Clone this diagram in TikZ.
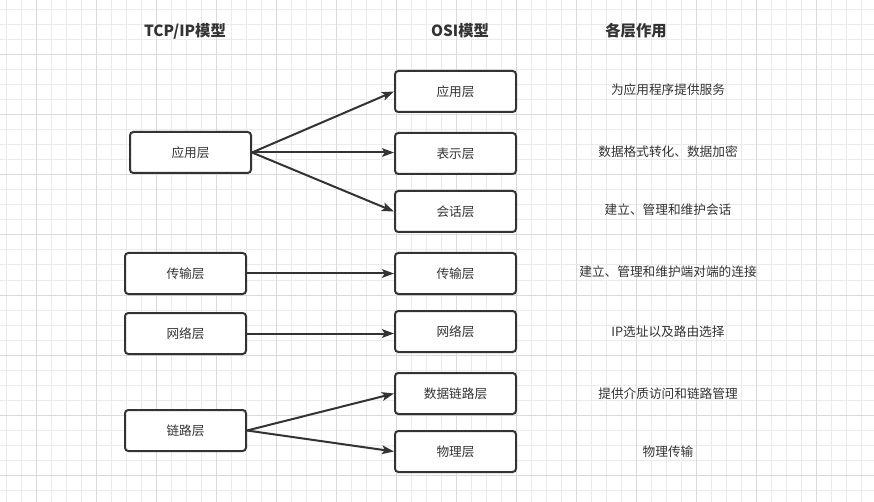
\documentclass[tikz,border=0pt]{standalone}
\usepackage{fontspec}
\setmainfont{Noto Sans CJK SC}
\usetikzlibrary{arrows.meta,positioning}
\definecolor{inkgray}{HTML}{333333}
\definecolor{gridminor}{HTML}{EBEBEB}
\definecolor{gridmajor}{HTML}{DADADA}
\tikzset{
  layerbox/.style={draw=inkgray,line width=1.5pt,rounded corners=2.5pt,fill=white,
    minimum width=90.75pt,minimum height=30.75pt,inner sep=0pt,text=inkgray,
    font=\fontsize{9.5}{11}\selectfont},
  headtext/.style={text=inkgray,font=\fontsize{11.5}{13}\selectfont\bfseries},
  desctext/.style={text=inkgray,font=\fontsize{9.5}{11}\selectfont},
  conn/.style={draw=inkgray,line width=1.5pt,-{Stealth[length=9pt,width=6.5pt,inset=2pt]}}
}

\begin{document}
\begin{tikzpicture}[x=0.75pt,y=-0.75pt]
  \useasboundingbox (0,0) rectangle (874,502);
  \fill[white] (0,0) rectangle (874,502);
  % grid background
  \foreach \x in {6.5,21.5,...,874}
    \draw[gridminor,line width=0.75pt] (\x,0) -- (\x,502);
  \foreach \y in {10,25,...,502}
    \draw[gridminor,line width=0.75pt] (0,\y) -- (874,\y);
  \foreach \x in {36.5,96.5,...,874}
    \draw[gridmajor,line width=0.75pt] (\x,0) -- (\x,502);
  \foreach \y in {55,115,...,502}
    \draw[gridmajor,line width=0.75pt] (0,\y) -- (874,\y);

  % column titles
  \node[headtext] (hdTcp) at (185,31) {TCP/IP模型};
  \node[headtext] (hdOsi) at (460,31) {OSI模型};
  \node[headtext] (hdRole) at (636,31) {各层作用};

  % TCP/IP layers
  \node[layerbox] (tcpApp) at (190.5,152.5) {应用层};
  \node[layerbox] (tcpTrans) at (185.5,273.5) {传输层};
  \node[layerbox] (tcpNet) at (185.5,333.5) {网络层};
  \node[layerbox] (tcpLink) at (185.5,430.5) {链路层};

  % OSI layers and their roles
  \foreach \nm/\yy/\dy/\lab/\desc in {osiApp/91.5/90/应用层/为应用程序提供服务,
      osiPres/153.5/152/表示层/数据格式转化、数据加密,
      osiSess/211.5/210/会话层/建立、管理和维护会话,
      osiTrans/273.5/272/传输层/建立、管理和维护端对端的连接,
      osiNet/331.5/332/网络层/IP选址以及路由选择,
      osiLink/393.5/394/数据链路层/提供介质访问和链路管理,
      osiPhy/451.5/452/物理层/物理传输}{
    \node[layerbox] (\nm) at (455.5,\yy) {\lab};
    \node[desctext] (d\nm) at (668,\dy) {\desc};
  }

  % mapping
  \draw[conn] (tcpApp.east) -- (osiApp.west);
  \draw[conn] (tcpApp.east) -- (tcpApp.east -| osiPres.west);
  \draw[conn] (tcpApp.east) -- (osiSess.west);
  \draw[conn] (tcpTrans.east) -- (tcpTrans.east -| osiTrans.west);
  \draw[conn] (tcpNet.east) -- (tcpNet.east -| osiNet.west);
  \draw[conn] (tcpLink.east) -- (osiLink.west);
  \draw[conn] (tcpLink.east) -- (osiPhy.west);
\end{tikzpicture}
\end{document}
